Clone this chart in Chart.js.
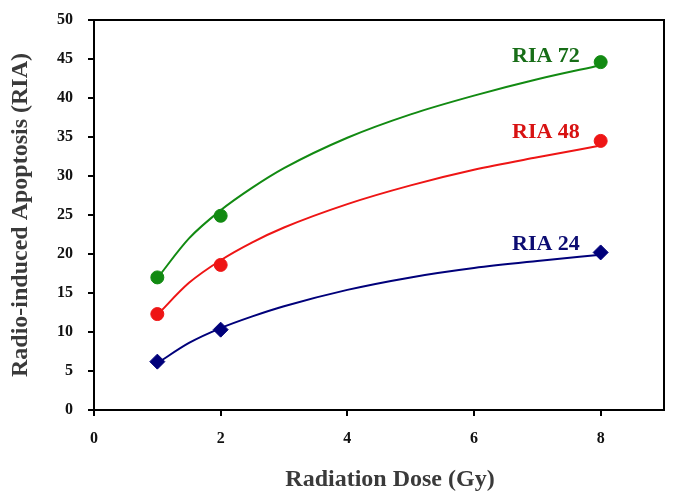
<!DOCTYPE html>
<html>
<head>
<meta charset="utf-8">
<script src="https://cdn.jsdelivr.net/npm/chart.js@4"></script>
<style>
  html, body { margin: 0; padding: 0; background: #fff; }
  #wrap { width: 674px; height: 500px; }
</style>
</head>
<body>
<div id="wrap"><canvas id="doseChart" width="674" height="500"></canvas></div>
<script>
// measured doses
const doses = [1, 2, 8];
const ria24 = [6.2, 10.3, 20.2];
const ria48 = [12.3, 18.6, 34.5];
const ria72 = [17.0, 24.9, 44.6];

// fitted curves
const fitX = [1, 1.5, 2, 2.5, 3, 4, 5, 6, 7, 8];
const fit24 = [6.0, 8.6, 10.5, 12.0, 13.3, 15.4, 17.0, 18.2, 19.1, 19.9];
const fit48 = [12.2, 16.3, 19.2, 21.5, 23.4, 26.4, 28.8, 30.8, 32.4, 33.9];
const fit72 = [16.9, 22.0, 25.6, 28.5, 31.0, 34.9, 37.9, 40.3, 42.4, 44.2];

const seriesNames = ['RIA 72', 'RIA 48', 'RIA 24'];
const yTicks = [0, 5, 10, 15, 20, 25, 30, 35, 40, 45, 50];
const xTicks = [0, 2, 4, 6, 8];

const colors = { g: '#128a12', r: '#ee1515', b: '#00007a' };
const textColors = ['#176d17', '#d81212', '#0c0c72'];
// where the series names sit, in data units
const nameAnchors = [[6.6, 45.3], [6.6, 35.6], [6.6, 21.2]];

const serif = '"Liberation Serif", "Times New Roman", serif';

function pts(xs, ys) {
    return xs.map((x, i) => ({ x: x, y: ys[i] }));
}

function curve(data, color) {
    return {
        data: data,
        showLine: true,
        borderColor: color,
        borderWidth: 2,
        pointRadius: 0,
        tension: 0.4,
        cubicInterpolationMode: 'monotone',
        fill: false
    };
}

function marks(data, color, style, r) {
    return {
        data: data,
        showLine: false,
        pointStyle: style,
        pointRadius: r,
        backgroundColor: color,
        borderColor: color,
        borderWidth: 1
    };
}

// top and right side of the box, plus the x axis title
const framePlugin = {
    id: 'frame',
    afterDraw(chart) {
        const { ctx, chartArea: a } = chart;
        ctx.save();
        ctx.strokeStyle = '#000';
        ctx.lineWidth = 2;
        ctx.beginPath();
        ctx.moveTo(a.left, a.top);
        ctx.lineTo(a.right, a.top);
        ctx.lineTo(a.right, a.bottom);
        ctx.stroke();

        ctx.font = 'bold 24px ' + serif;
        ctx.fillStyle = '#3a3a3a';
        ctx.textAlign = 'center';
        ctx.textBaseline = 'middle';
        ctx.fillText('Radiation Dose (Gy)', a.left + (a.right - a.left) / 2 + 11, 480);
        ctx.restore();
    }
};

const namePlugin = {
    id: 'names',
    afterDatasetsDraw(chart) {
        const { ctx, scales } = chart;
        ctx.save();
        ctx.font = 'bold 22px ' + serif;
        ctx.textAlign = 'left';
        ctx.textBaseline = 'middle';
        seriesNames.forEach((name, i) => {
            ctx.fillStyle = textColors[i];
            ctx.fillText(name, scales.x.getPixelForValue(nameAnchors[i][0]), scales.y.getPixelForValue(nameAnchors[i][1]));
        });
        ctx.restore();
    }
};

const tickFont = { family: serif, size: 16, weight: 'bold' };
const titleFont = { family: serif, size: 24, weight: 'bold' };

const doseChart = new Chart(document.getElementById('doseChart'), {
    type: 'scatter',
    data: {
        datasets: [
            curve(pts(fitX, fit72), colors.g),
            curve(pts(fitX, fit48), colors.r),
            curve(pts(fitX, fit24), colors.b),
            marks(pts(doses, ria72), colors.g, 'circle', 6.5),
            marks(pts(doses, ria48), colors.r, 'circle', 6.5),
            marks(pts(doses, ria24), colors.b, 'rectRot', 7.5)
        ]
    },
    options: {
        responsive: false,
        animation: false,
        layout: { padding: { top: 20, right: 10, left: 0, bottom: 0 } },
        scales: {
            x: {
                type: 'linear',
                min: 0,
                max: 9,
                afterFit(scale) { scale.height = 90; },
                afterBuildTicks(scale) { scale.ticks = xTicks.map(v => ({ value: v })); },
                border: { color: '#000', width: 2 },
                grid: { drawOnChartArea: false, drawTicks: true, tickLength: 6, color: '#000', lineWidth: 2 },
                ticks: { color: '#111', font: tickFont, padding: 13, maxRotation: 0 },
                title: { display: false }
            },
            y: {
                min: 0,
                max: 50,
                afterFit(scale) {
                    scale.width = 94;
                    scale.paddingTop = 10;
                },
                afterBuildTicks(scale) { scale.ticks = yTicks.map(v => ({ value: v })); },
                border: { color: '#000', width: 2 },
                grid: { drawOnChartArea: false, drawTicks: true, tickLength: 6, color: '#000', lineWidth: 2 },
                ticks: { color: '#111', font: tickFont, padding: 15 },
                title: {
                    display: true,
                    text: 'Radio-induced Apoptosis (RIA)',
                    color: '#3a3a3a',
                    font: titleFont,
                    padding: { top: 6, bottom: 0 }
                }
            }
        },
        plugins: {
            legend: { display: false },
            tooltip: { enabled: false }
        }
    },
    plugins: [framePlugin, namePlugin]
});
</script>
</body>
</html>
